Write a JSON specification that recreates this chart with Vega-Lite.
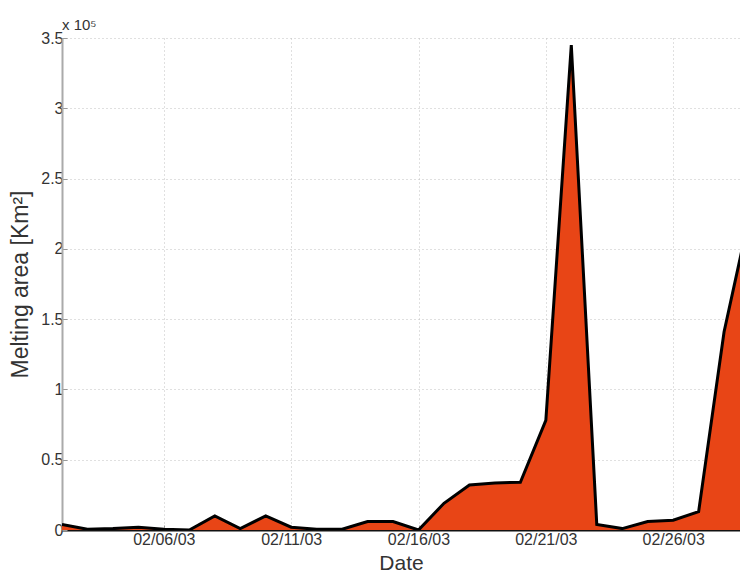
{
  "$schema": "https://vega.github.io/schema/vega-lite/v6.json",
  "width": 678,
  "height": 492,
  "autosize": "none",
  "padding": {"left": 62, "top": 38, "right": 0, "bottom": 45},
  "background": "white",
  "config": {
    "view": {"stroke": null},
    "font": "Liberation Sans"
  },
  "title": {
    "text": "x 10⁵",
    "anchor": "start",
    "frame": "group",
    "offset": 4,
    "dy": 7,
    "fontSize": 15,
    "fontWeight": "normal",
    "color": "#333333",
    "font": "Liberation Sans"
  },
  "data": {
    "values": [
      {"date": "2003-02-02", "area": 4000},
      {"date": "2003-02-03", "area": 500},
      {"date": "2003-02-04", "area": 1000},
      {"date": "2003-02-05", "area": 2000},
      {"date": "2003-02-06", "area": 500},
      {"date": "2003-02-07", "area": 0},
      {"date": "2003-02-08", "area": 10000},
      {"date": "2003-02-09", "area": 1000},
      {"date": "2003-02-10", "area": 10000},
      {"date": "2003-02-11", "area": 2000},
      {"date": "2003-02-12", "area": 500},
      {"date": "2003-02-13", "area": 500},
      {"date": "2003-02-14", "area": 6000},
      {"date": "2003-02-15", "area": 6000},
      {"date": "2003-02-16", "area": 0},
      {"date": "2003-02-17", "area": 19000},
      {"date": "2003-02-18", "area": 32000},
      {"date": "2003-02-19", "area": 33500},
      {"date": "2003-02-20", "area": 34000},
      {"date": "2003-02-21", "area": 78000},
      {"date": "2003-02-22", "area": 345000},
      {"date": "2003-02-23", "area": 4000},
      {"date": "2003-02-24", "area": 1000},
      {"date": "2003-02-25", "area": 6000},
      {"date": "2003-02-26", "area": 7000},
      {"date": "2003-02-27", "area": 13000},
      {"date": "2003-02-28", "area": 141000},
      {"date": "2003-03-01", "area": 224000}
    ]
  },
  "mark": {
    "type": "area",
    "color": "#E84516",
    "opacity": 1,
    "fillOpacity": 1,
    "clip": true,
    "line": {"color": "black", "strokeWidth": 3, "strokeJoin": "miter"}
  },
  "encoding": {
    "x": {
      "field": "date",
      "type": "temporal",
      "scale": {
        "type": "utc",
        "domain": [
          {"year": 2003, "month": 2, "date": 2, "utc": true},
          {"year": 2003, "month": 2, "date": 28, "hours": 15, "utc": true}
        ]
      },
      "axis": {
        "title": "Date",
        "titleFontSize": 21,
        "titleFontWeight": "normal",
        "titleColor": "#333333",
        "titlePadding": 5,
        "labelExpr": "utcFormat(datum.value, '%m/%d/%y')",
        "values": [
          {"year": 2003, "month": 2, "date": 6, "utc": true},
          {"year": 2003, "month": 2, "date": 11, "utc": true},
          {"year": 2003, "month": 2, "date": 16, "utc": true},
          {"year": 2003, "month": 2, "date": 21, "utc": true},
          {"year": 2003, "month": 2, "date": 26, "utc": true}
        ],
        "labelFontSize": 16,
        "labelColor": "#333333",
        "labelPadding": 6,
        "labelFlush": false,
        "tickSize": -5,
        "tickColor": "#999999",
        "domainColor": "#111111",
        "domainWidth": 2,
        "grid": true,
        "gridColor": "#c0c0c0",
        "gridDash": [1, 3],
        "gridWidth": 1
      }
    },
    "y": {
      "field": "area",
      "type": "quantitative",
      "scale": {"domain": [0, 350000], "nice": false},
      "axis": {
        "title": "Melting area [Km²]",
        "titleFontSize": 23,
        "titleFontWeight": "normal",
        "titleColor": "#333333",
        "titlePadding": 8,
        "values": [0, 50000, 100000, 150000, 200000, 250000, 300000, 350000],
        "labelExpr": "format(datum.value / 100000, '')",
        "labelFontSize": 16,
        "labelColor": "#333333",
        "labelPadding": 4,
        "labelFlush": false,
        "tickSize": -5,
        "tickColor": "#999999",
        "domainColor": "#aaaaaa",
        "domainWidth": 2,
        "grid": true,
        "gridColor": "#c0c0c0",
        "gridDash": [1, 3],
        "gridWidth": 1
      }
    }
  }
}
